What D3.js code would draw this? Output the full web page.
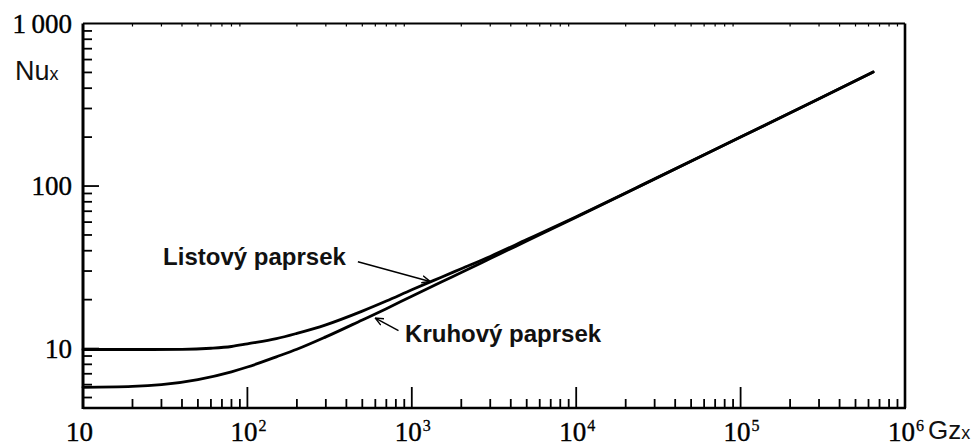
<!DOCTYPE html>
<html>
<head>
<meta charset="utf-8">
<script src="https://cdn.jsdelivr.net/npm/d3@7"></script>
<style>
  body { margin: 0; background: #fff; }
</style>
</head>
<body>
<div id="chart"></div>
<script>
// Values (Gz_x -> Nu_x)
var gzListovy = [10, 20, 40, 60, 80, 100, 150, 200, 300, 500, 700, 1000, 1500, 2000, 3000, 5000, 1e4, 3e4, 1e5, 3e5, 6.4e5]
var nuListovy = [9.87, 9.87, 9.9, 10.05, 10.3, 10.7, 11.5, 12.4, 14.0, 17.0, 19.6, 23.0, 27.4, 31.0, 36.9, 46.8, 64.8, 110.7, 200.3, 344, 503]

var gzKruhovy = [10, 20, 30, 50, 80, 100, 150, 200, 300, 500, 700, 1000, 1500, 2000, 3000, 5000, 1e4, 3e4, 1e5, 3e5, 6.4e5]
var nuKruhovy = [5.78, 5.85, 6.0, 6.45, 7.2, 7.7, 8.9, 9.9, 11.8, 15.0, 17.6, 21.0, 25.6, 29.4, 35.8, 45.9, 64.3, 110.5, 200, 344, 503]

// tick labels
var xTicks = [10, 100, 1e3, 1e4, 1e5, 1e6]
var xTickExp = ['', '2', '3', '4', '5', '6']
var yTicks = [10, 100, 1000]
var yTickLabels = ['10', '100', '1\u2009000']

// annotation labels, given in data coordinates [Gz, Nu]
var labelText = ['Listový paprsek', 'Kruhový paprsek']
var labelAt = [[30.7, 32.7], [910, 10.97]]
var arrowFrom = [[470, 34.2], [830, 12.9]]
var arrowTo = [[1290, 25.9], [600, 15.4]]

var width = 975
var height = 447

var x = d3.scaleLog().domain([10, 1e6]).range([83, 905])
var y = d3.scaleLog().domain([4.31, 1000]).range([408, 23.5])

var svg = d3.select('#chart')
  .append('svg')
  .attr('width', width)
  .attr('height', height)

// minor ticks for each decade
function minors(lo, hi) {
  var out = []
  for (var d = lo; d < hi; d *= 10) {
    for (var k = 2; k <= 9; k++) out.push(d * k)
  }
  return out
}
var xMinor = minors(10, 1e6)
var yMinor = minors(1, 1000).filter(function (v) { return v >= y.domain()[0] })

var ticks = svg.append('g')
  .attr('stroke', '#000')
  .attr('stroke-width', 1.8)

// bottom ticks (pointing up into the plot)
ticks.selectAll('.xmin').data(xMinor).enter().append('line')
  .attr('x1', x).attr('x2', x)
  .attr('y1', y.range()[0]).attr('y2', y.range()[0] - 9)
ticks.selectAll('.xmaj').data(xTicks.slice(1, -1)).enter().append('line')
  .attr('x1', x).attr('x2', x)
  .attr('y1', y.range()[0]).attr('y2', y.range()[0] - 21)

// top ticks, tiny
ticks.selectAll('.xtop').data(xMinor).enter().append('line')
  .attr('x1', x).attr('x2', x)
  .attr('y1', y.range()[1]).attr('y2', y.range()[1] + 3)
  .attr('stroke-width', 1.2)

// left ticks (pointing right)
ticks.selectAll('.ymin').data(yMinor).enter().append('line')
  .attr('y1', y).attr('y2', y)
  .attr('x1', x.range()[0]).attr('x2', x.range()[0] + 9)
ticks.selectAll('.ymaj').data(yTicks.slice(0, -1)).enter().append('line')
  .attr('y1', y).attr('y2', y)
  .attr('x1', x.range()[0]).attr('x2', x.range()[0] + 16)

// frame
var x0 = x.range()[0], x1 = x.range()[1], yb = y.range()[0], yt = y.range()[1]
svg.append('line').attr('x1', x0).attr('x2', x0).attr('y1', yt).attr('y2', yb + 1)
  .attr('stroke', '#000').attr('stroke-width', 3)
svg.append('line').attr('x1', x0).attr('x2', x1 + 1).attr('y1', yb).attr('y2', yb)
  .attr('stroke', '#000').attr('stroke-width', 2.6)
svg.append('line').attr('x1', x0).attr('x2', x1).attr('y1', yt).attr('y2', yt)
  .attr('stroke', '#000').attr('stroke-width', 2)
svg.append('line').attr('x1', x1).attr('x2', x1).attr('y1', yt).attr('y2', yb)
  .attr('stroke', '#000').attr('stroke-width', 2.6)

// curves
var line = d3.line()
  .x(function (d) { return x(d[0]) })
  .y(function (d) { return y(d[1]) })
  .curve(d3.curveMonotoneX)

var series = [d3.zip(gzListovy, nuListovy), d3.zip(gzKruhovy, nuKruhovy)]

svg.selectAll('.curve').data(series).enter().append('path')
  .attr('class', 'curve')
  .attr('d', line)
  .attr('fill', 'none')
  .attr('stroke', '#000')
  .attr('stroke-width', 2.8)
  .attr('stroke-linecap', 'round')

// y labels
svg.selectAll('.ylab').data(yTicks).enter().append('text')
  .attr('x', 72)
  .attr('y', function (d) { return y(d) + 9 })
  .attr('text-anchor', 'end')
  .style('font-family', '"Liberation Serif", serif')
  .style('font-size', '27px')
  .attr('stroke', '#000').attr('stroke-width', 0.4)
  .text(function (d, i) { return yTickLabels[i] })

// x labels, 10 with superscript exponent
var xl = svg.selectAll('.xlab').data(xTicks).enter().append('g')
  .attr('transform', function (d) { return 'translate(' + (x(d) - 17) + ',441)' })
xl.append('text')
  .style('font-family', '"Liberation Serif", serif')
  .style('font-size', '27px')
  .attr('stroke', '#000').attr('stroke-width', 0.4)
  .text('10')
xl.append('text')
  .attr('x', 28).attr('y', -10)
  .style('font-family', '"Liberation Serif", serif')
  .style('font-size', '16px')
  .attr('stroke', '#000').attr('stroke-width', 0.3)
  .text(function (d, i) { return xTickExp[i] })

// axis titles
var nu = svg.append('text')
  .attr('x', 15).attr('y', 80)
  .style('font-family', '"Liberation Sans", sans-serif')
  .style('font-size', '27px')
  .attr('fill', '#111')
nu.append('tspan').text('Nu')
nu.append('tspan').style('font-size', '18px').text('x')

var gz = svg.append('text')
  .attr('x', x(1e6) + 23).attr('y', 439)
  .style('font-family', '"Liberation Sans", sans-serif')
  .style('font-size', '26px')
  .attr('fill', '#111')
gz.append('tspan').text('Gz')
gz.append('tspan').style('font-size', '18px').text('x')

// annotations
svg.append('defs').append('marker')
  .attr('id', 'barb')
  .attr('viewBox', '0 -5 10 10')
  .attr('refX', 9).attr('refY', 0)
  .attr('markerWidth', 9).attr('markerHeight', 9)
  .attr('markerUnits', 'userSpaceOnUse')
  .attr('orient', 'auto')
  .append('path')
  .attr('d', 'M0,-4L9,0L0,4')
  .attr('fill', 'none')
  .attr('stroke', '#000')
  .attr('stroke-width', 1.6)

svg.selectAll('.ann').data(labelText).enter().append('text')
  .attr('x', function (d, i) { return x(labelAt[i][0]) })
  .attr('y', function (d, i) { return y(labelAt[i][1]) })
  .style('font-family', '"Liberation Sans", sans-serif')
  .style('font-size', '24px')
  .style('font-weight', 'bold')
  .attr('fill', '#111')
  .text(function (d) { return d })

svg.selectAll('.arrow').data(arrowFrom).enter().append('line')
  .attr('x1', function (d) { return x(d[0]) })
  .attr('y1', function (d) { return y(d[1]) })
  .attr('x2', function (d, i) { return x(arrowTo[i][0]) })
  .attr('y2', function (d, i) { return y(arrowTo[i][1]) })
  .attr('stroke', '#000')
  .attr('stroke-width', 1.5)
  .attr('marker-end', 'url(#barb)')
</script>
</body>
</html>
